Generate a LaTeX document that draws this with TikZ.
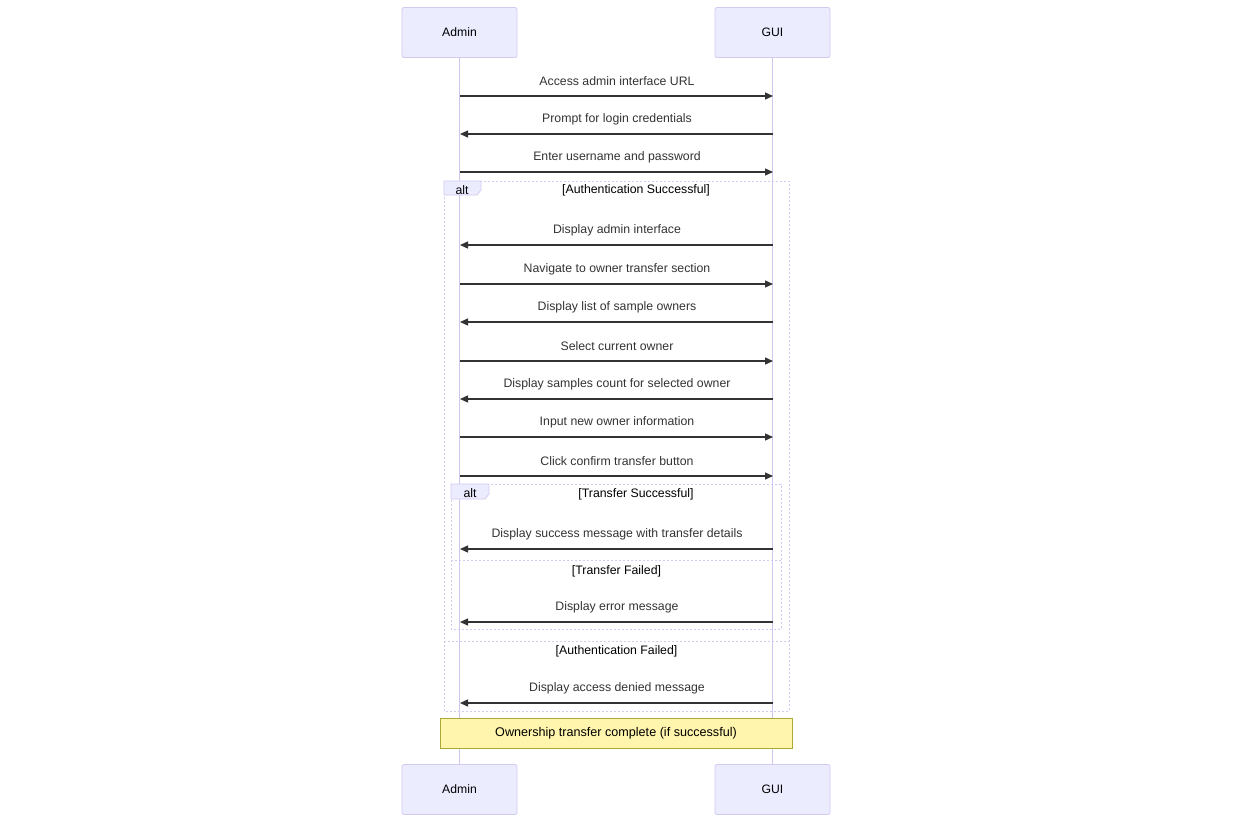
\documentclass[tikz,border=0pt]{standalone}
\usepackage{fontspec}
\setmainfont{Liberation Sans}
\usetikzlibrary{arrows.meta}
\definecolor{actfill}{HTML}{ECECFF}
\definecolor{actline}{HTML}{D3C9F1}
\definecolor{lifeln}{HTML}{CFC5EF}
\definecolor{msgcol}{HTML}{333333}
\definecolor{notefill}{HTML}{FFF5AD}
\definecolor{noteline}{HTML}{AAAA33}
\tikzset{
  actor/.style={draw=actline, fill=actfill, rounded corners=2pt, line width=0.8pt,
    minimum width=115pt, minimum height=50pt, inner sep=0pt, font=\fontsize{12.2}{14}\selectfont},
  lifeline/.style={draw=lifeln, line width=1.2pt},
  msgline/.style={draw=msgcol, line width=1.3pt, -{Triangle[length=8pt,width=7pt]}},
  msglabel/.style={text=msgcol, font=\fontsize{12.3}{14}\selectfont, inner sep=0pt},
  framebox/.style={draw=actline, line width=0.9pt, dash pattern=on 2pt off 2pt},
  sectlabel/.style={text=black, font=\fontsize{12.3}{14}\selectfont, inner sep=0pt},
  notebox/.style={draw=noteline, fill=notefill, line width=0.8pt, minimum width=352pt,
    minimum height=30pt, inner sep=0pt, font=\fontsize{12.6}{14}\selectfont},
}
\begin{document}
\begin{tikzpicture}[x=1pt,y=-1pt]
\useasboundingbox (0,0) rectangle (1233,823);
% actors
\node[actor] (admTop) at (459.5,32.5) {Admin};
\node[actor] (guiTop) at (772.5,32.5) {GUI};
\node[actor] (admBot) at (459.5,789.5) {Admin};
\node[actor] (guiBot) at (772.5,789.5) {GUI};
\draw[lifeline] (admTop.south) -- (admBot.north);
\draw[lifeline] (guiTop.south) -- (guiBot.north);
% frames
\draw[framebox] (444,181) rectangle (789,711);
\draw[framebox] (444,641) -- (789,641);
\draw[actline, fill=actfill, line width=0.8pt] (444,181) -- (481,181) -- (481,190) -- (477,195) -- (444,195) -- cycle;
\node[sectlabel] (altA) at (462,190) {alt};
\node[sectlabel] (secA) at (636,190) {[Authentication Successful]};
\node[sectlabel] (secB) at (616.5,651) {[Authentication Failed]};
\draw[framebox] (451,484) rectangle (781,629);
\draw[framebox] (451,560) -- (781,560);
\draw[actline, fill=actfill, line width=0.8pt] (451,484) -- (489,484) -- (489,494) -- (485,499) -- (451,499) -- cycle;
\node[sectlabel] (altB) at (470,493) {alt};
\node[sectlabel] (secC) at (636,494) {[Transfer Successful]};
\node[sectlabel] (secD) at (616.5,571) {[Transfer Failed]};
% messages: y, direction (1 = to GUI, 0 = to Admin), text
\foreach \i/\y/\d/\t in {
  1/96/1/{Access admin interface URL},
  2/134/0/{Prompt for login credentials},
  3/172/1/{Enter username and password},
  4/245/0/{Display admin interface},
  5/284/1/{Navigate to owner transfer section},
  6/322/0/{Display list of sample owners},
  7/361/1/{Select current owner},
  8/399/0/{Display samples count for selected owner},
  9/437/1/{Input new owner information},
  10/476/1/{Click confirm transfer button},
  11/549/0/{Display success message with transfer details},
  12/622/0/{Display error message},
  13/703/0/{Display access denied message}}{
  \coordinate (a\i) at (460,\y);
  \coordinate (g\i) at (773,\y);
  \ifnum\d=1
    \draw[msgline] (a\i) -- (g\i);
  \else
    \draw[msgline] (g\i) -- (a\i);
  \fi
  \node[msglabel] (m\i) at (617,\y-14.5) {\t};
}
% note
\node[notebox] (note) at (616,733) {Ownership transfer complete (if successful)};
\end{tikzpicture}
\end{document}
